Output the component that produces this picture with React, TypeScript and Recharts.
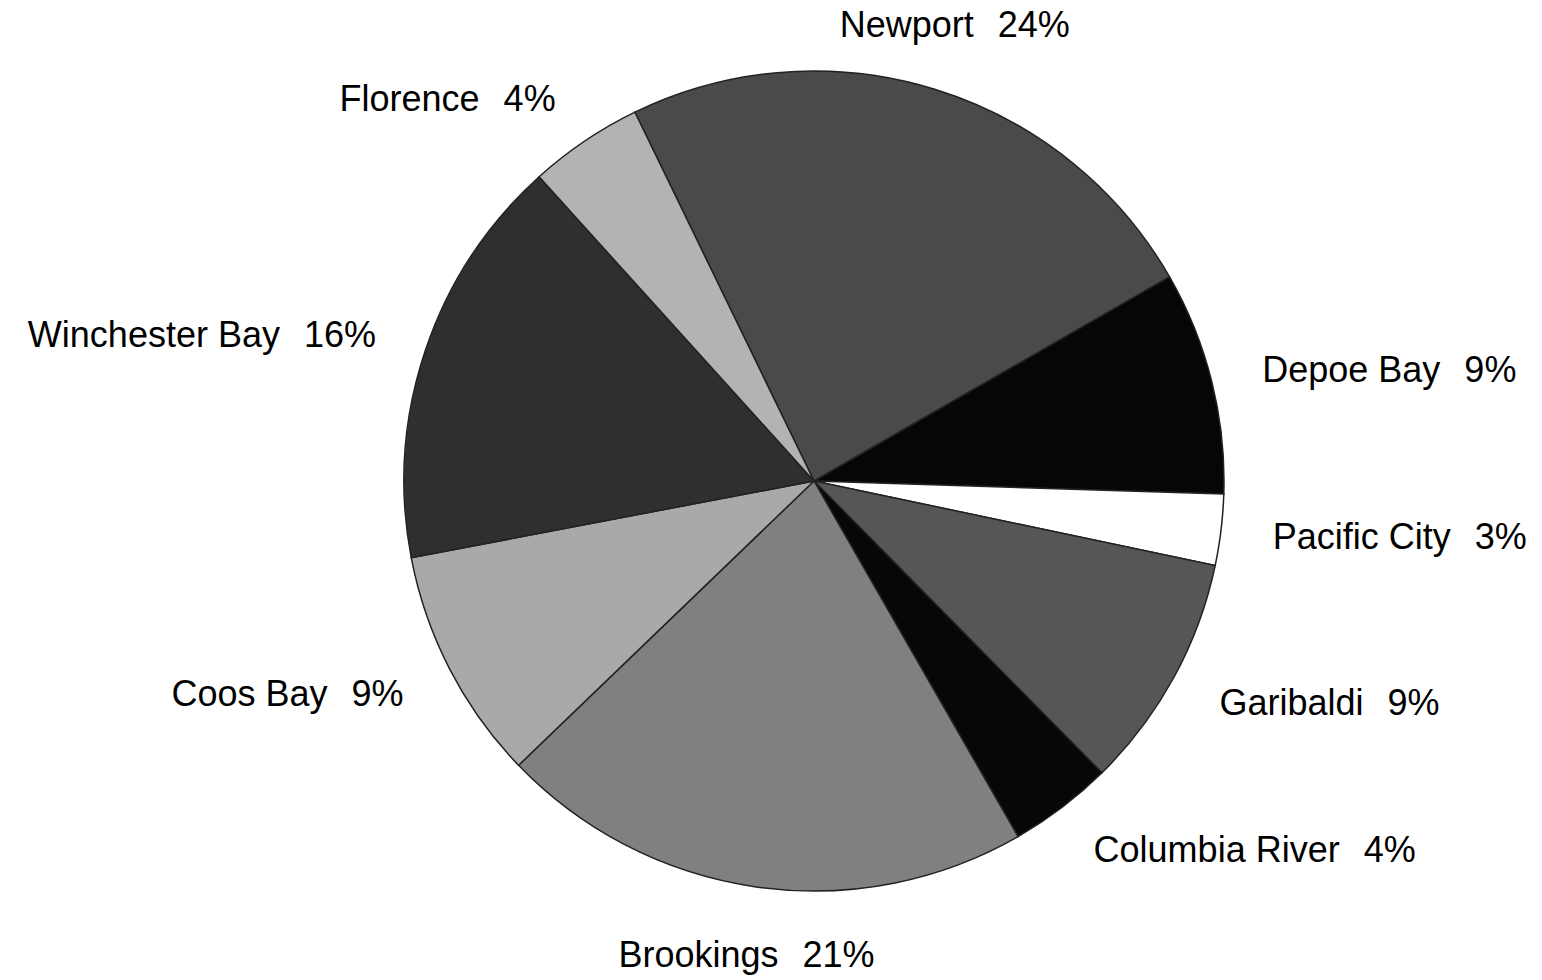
import { PieChart, Pie, Cell } from "recharts"

const PORTS = [
  "Newport",
  "Depoe Bay",
  "Pacific City",
  "Garibaldi",
  "Columbia River",
  "Brookings",
  "Coos Bay",
  "Winchester Bay",
  "Florence",
]
// slice shares
const SHARES = [23.9, 8.8, 2.8, 9.3, 4.1, 21.1, 9.2, 16.3, 4.5]
// the printed percentages
const PCT_LABELS = ["24%", "9%", "3%", "9%", "4%", "21%", "9%", "16%", "4%"]
const FILLS = [
  "#4a4a4a",
  "#060606",
  "#ffffff",
  "#565656",
  "#070707",
  "#808080",
  "#a9a9a9",
  "#2f2f2f",
  "#b3b3b3",
]

const data = PORTS.map((name, i) => ({ name, value: SHARES[i], pct: PCT_LABELS[i] }))

const RAD = Math.PI / 180

function renderLabel(props: any) {
  const { cx, cy, midAngle, outerRadius, index } = props
  const cos = Math.cos(-midAngle * RAD)
  const sin = Math.sin(-midAngle * RAD)
  const middle = Math.abs(cos) < 0.35
  const r = outerRadius + (middle ? 68 : 52)
  const x = cx + r * cos
  const y = cy + r * sin
  const anchor = middle ? "middle" : cos > 0 ? "start" : "end"
  return (
    <text
      x={x}
      y={y}
      textAnchor={anchor}
      dominantBaseline="central"
      fill="#000"
      fontSize={36}
      fontFamily="'Liberation Sans', Arial, sans-serif"
    >
      <tspan>{data[index].name}</tspan>
      <tspan dx={24}>{data[index].pct}</tspan>
    </text>
  )
}

export default function App() {
  return (
    <div style={{ position: "absolute", left: 0, top: 0, width: 1542, height: 980, background: "#fff" }}>
      <PieChart width={1542} height={980}>
        <Pie
          data={data}
          dataKey="value"
          nameKey="name"
          cx={809}
          cy={476}
          outerRadius={410}
          startAngle={115.9}
          endAngle={115.9 - 360}
          stroke="#222"
          strokeWidth={1.5}
          label={renderLabel}
          labelLine={false}
          isAnimationActive={false}
        >
          {data.map((d, i) => (
            <Cell key={d.name} fill={FILLS[i]} />
          ))}
        </Pie>
      </PieChart>
    </div>
  )
}
